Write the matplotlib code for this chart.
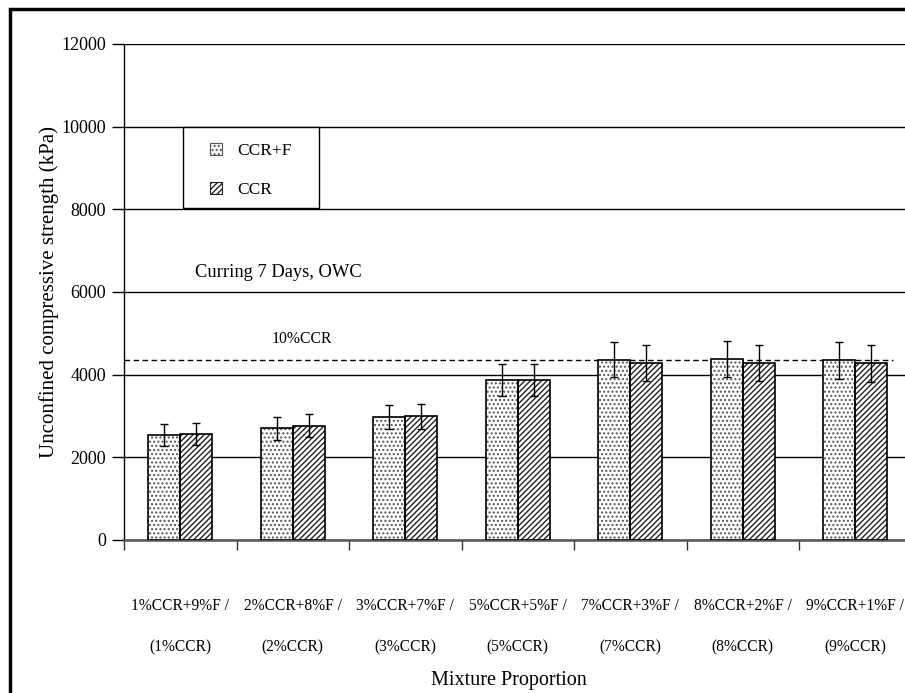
import numpy as np
import matplotlib
matplotlib.use("Agg")
import matplotlib.pyplot as plt
from matplotlib.patches import Rectangle, Patch

plt.rcParams['font.family'] = ['Liberation Serif', 'DejaVu Serif']
plt.rcParams['hatch.linewidth'] = 1.0

# mixture proportions, CCR+F and CCR-only specimens (7 days curing, OWC)
mix_top = ['1%CCR+9%F /', '2%CCR+8%F /', '3%CCR+7%F /', '5%CCR+5%F /',
           '7%CCR+3%F /', '8%CCR+2%F /', '9%CCR+1%F /']
mix_bottom = ['(1%CCR)', '(2%CCR)', '(3%CCR)', '(5%CCR)',
              '(7%CCR)', '(8%CCR)', '(9%CCR)']
ucs_ccr_f = [2540, 2700, 2975, 3870, 4365, 4385, 4350]
ucs_ccr = [2570, 2765, 2990, 3865, 4275, 4280, 4275]
err_ccr_f = [260, 280, 300, 390, 430, 435, 445]
err_ccr = [260, 285, 310, 385, 440, 435, 445]
ref_10ccr = 4350

fig = plt.figure(figsize=(9.05, 6.93), dpi=100)
W, H = 905, 693
ax = fig.add_axes([124 / W, 1 - 540 / H, 787.5 / W, 496 / H])

x = np.arange(len(mix_top))
bw = 0.284
dots = '....'
stripes = '//////'

# fills with hatch first, then black outlines on top
ax.bar(x - bw / 2, ucs_ccr_f, bw, color='white', edgecolor='#555555',
       hatch=dots, linewidth=0, zorder=3)
ax.bar(x - bw / 2, ucs_ccr_f, bw, color='none', edgecolor='black',
       linewidth=1.2, zorder=4)
ax.bar(x + bw / 2, ucs_ccr, bw, color='white', edgecolor='#222222',
       hatch=stripes, linewidth=0, zorder=3)
ax.bar(x + bw / 2, ucs_ccr, bw, color='none', edgecolor='black',
       linewidth=1.2, zorder=4)

ax.errorbar(x - bw / 2, ucs_ccr_f, yerr=err_ccr_f, fmt='none', ecolor='black',
            elinewidth=1, capsize=2.8, capthick=1, zorder=5)
ax.errorbar(x + bw / 2, ucs_ccr, yerr=err_ccr, fmt='none', ecolor='black',
            elinewidth=1, capsize=2.8, capthick=1, zorder=5)

# 10% CCR reference level
ax.plot([-0.5, 6.335], [ref_10ccr, ref_10ccr], color='black', lw=1,
        linestyle=(0, (4, 2.5)), zorder=2)
ax.text(0.816, 4766, '10%CCR', fontsize=11.3, va='baseline', ha='left')
ax.text(0.131, 6360, 'Curring 7 Days, OWC', fontsize=13.3, va='baseline', ha='left')

ax.set_xlim(-0.5, 6.5)
ax.set_ylim(0, 12000)
ax.set_yticks(np.arange(0, 12001, 2000))
ax.yaxis.grid(True, color='black', linewidth=1)
ax.set_axisbelow(True)
ax.tick_params(axis='y', direction='out', length=9, width=1, labelsize=13, pad=4)

ax.set_xticks(np.arange(-0.5, 6.6, 1))
ax.set_xticklabels([])
ax.tick_params(axis='x', which='major', direction='out', length=7, width=1, color='#333333')
ax.set_xticks(x, minor=True)
ax.set_xticklabels([a + '\n' + b for a, b in zip(mix_top, mix_bottom)], minor=True,
                   fontsize=11.2, linespacing=3.1)
ax.tick_params(axis='x', which='minor', length=0, pad=42)

for side in ['top', 'right']:
    ax.spines[side].set_visible(False)
ax.spines['left'].set_linewidth(1)
ax.spines['bottom'].set_color('#555555')
ax.spines['bottom'].set_linewidth(1.8)

fig.text(49 / W, 1 - 292 / H, 'Unconfined compressive strength (kPa)', fontsize=15,
         rotation=90, ha='center', va='center')
fig.text(509 / W, 1 - 681 / H, 'Mixture Proportion', fontsize=14.5,
         ha='center', va='center')

# legend box drawn as a patch, entries placed inside without their own frame
box = Rectangle((183 / W, 1 - 208 / H), 136 / W, 81 / H,
                transform=fig.transFigure, facecolor='white',
                edgecolor='black', linewidth=1, zorder=6, clip_on=False)
ax.add_patch(box)
handles = [Patch(facecolor='white', edgecolor='#555555', hatch=dots, linewidth=0.8),
           Patch(facecolor='white', edgecolor='#222222', hatch=stripes, linewidth=0.8)]
leg = ax.legend(handles, ['CCR+F', 'CCR'], loc='center left',
                bbox_to_anchor=(210 / W, 1 - 170.5 / H), bbox_transform=fig.transFigure,
                frameon=False, fontsize=12.5,
                handlelength=0.7, handleheight=0.7, handletextpad=0.85,
                labelspacing=1.35, borderpad=0, borderaxespad=0)
leg.set_zorder(7)

# outer frame around the figure
fig.patches.append(Rectangle((10 / W, -0.1), 1.2, 1 - 9 / H + 0.1,
                             transform=fig.transFigure, fill=False,
                             edgecolor='black', linewidth=2.5))

fig.savefig('out.png', dpi=100)
